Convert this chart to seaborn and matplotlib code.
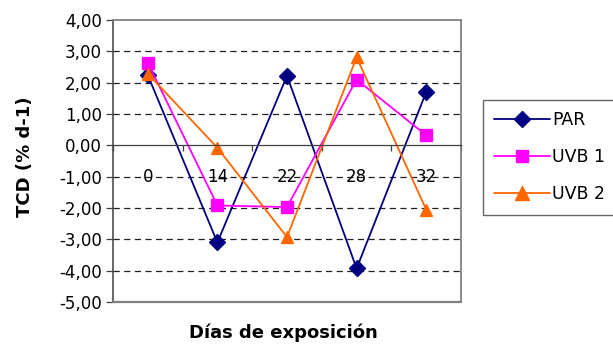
import seaborn as sns
import matplotlib.pyplot as plt
import matplotlib.ticker as mticker
from matplotlib.lines import Line2D
import pandas as pd

dias = ['0', '14', '22', '28', '32']
par = [2.24, -3.10, 2.22, -3.93, 1.70]
uvb1 = [2.64, -1.92, -1.97, 2.10, 0.32]
uvb2 = [2.29, -0.08, -2.93, 2.81, -2.05]
series = ['PAR', 'UVB 1', 'UVB 2']
colors = ['#000080', '#FF00FF', '#FF6600']
markers = ['D', 's', '^']
msizes = [8, 8.5, 10.5]

df = pd.DataFrame({
    'dia': dias * 3,
    'tcd': par + uvb1 + uvb2,
    'serie': [s for s in series for _ in dias],
})

sns.set_style('white')
plt.rcParams['font.family'] = ['DejaVu Sans']
plt.rcParams['text.color'] = 'black'
plt.rcParams['xtick.color'] = 'black'
plt.rcParams['ytick.color'] = 'black'

fig = plt.figure(figsize=(6.13, 3.45), dpi=100)
ax = fig.add_axes([113 / 613, 1 - 302 / 345, (461 - 113) / 613, (302 - 20) / 345])

# dashed grid first so lines sit on top
for v in range(-5, 4):
    if v != 0:
        ax.axhline(v, color='#202020', lw=0.9, ls=(0, (5, 3.5)), zorder=0)

sns.pointplot(data=df, x='dia', y='tcd', hue='serie', palette=colors,
              markers=markers, linestyles='-', errorbar=None, ax=ax,
              legend=False, lw=1.3, markersize=8)
for ln, m, s in zip(ax.lines, markers, msizes):
    ln.set_markersize(s)

ax.set_xlim(-0.5, 4.5)
ax.set_ylim(-5, 4)
ax.yaxis.set_major_locator(mticker.MultipleLocator(1))
ax.yaxis.set_major_formatter(mticker.FuncFormatter(lambda v, p: f'{v:.2f}'.replace('.', ',')))
ax.tick_params(axis='y', left=True, direction='out', length=5, width=0.9,
               color='#404040', labelcolor='black', labelsize=12, pad=3)

# category axis crossing at zero
ax.spines['bottom'].set_position(('data', 0))
ax.spines['bottom'].set_color('#404040')
ax.spines['bottom'].set_linewidth(0.9)
ax.set_xticks(range(len(dias)))
ax.set_xticklabels(dias)
ax.set_xticks([i + 0.5 for i in range(-1, len(dias))], minor=True)
ax.tick_params(axis='x', which='major', length=0, labelsize=12, pad=16,
               labelcolor='black')
ax.tick_params(axis='x', which='minor', bottom=True, direction='out', length=4,
               width=0.9, color='#404040')

ax.spines['left'].set_color('#404040')
ax.spines['left'].set_linewidth(1.1)
for sp in ['top', 'right']:
    ax.spines[sp].set_visible(True)
    ax.spines[sp].set_color('#808080')
    ax.spines[sp].set_linewidth(1.3)
ax.axhline(-5, color='#808080', lw=1.6, zorder=3, clip_on=False)

ax.set_xlabel('')
ax.set_ylabel('')
fig.text(25 / 613, 1 - 157 / 345, 'TCD (% d-1)', rotation=90, ha='center',
         va='center', fontsize=13, fontweight='bold', color='black')
fig.text(283 / 613, 1 - 333 / 345, 'Días de exposición', ha='center',
         va='center', fontsize=13, fontweight='bold', color='black')

handles = [Line2D([], [], color=c, marker=m, markersize=s, lw=1.3)
           for c, m, s in zip(colors, markers, msizes)]
leg = fig.legend(handles, series, loc='upper left',
                 bbox_to_anchor=(483 / 613, 1 - 100 / 345), fontsize=12.5,
                 frameon=True, fancybox=False, handlelength=3.2,
                 handletextpad=0.15, labelspacing=1.1, borderpad=0.65,
                 borderaxespad=0)
leg.get_frame().set_edgecolor('#404040')
leg.get_frame().set_linewidth(1.0)
for t in leg.get_texts():
    t.set_color('black')

fig.savefig('out.png', dpi=100)
